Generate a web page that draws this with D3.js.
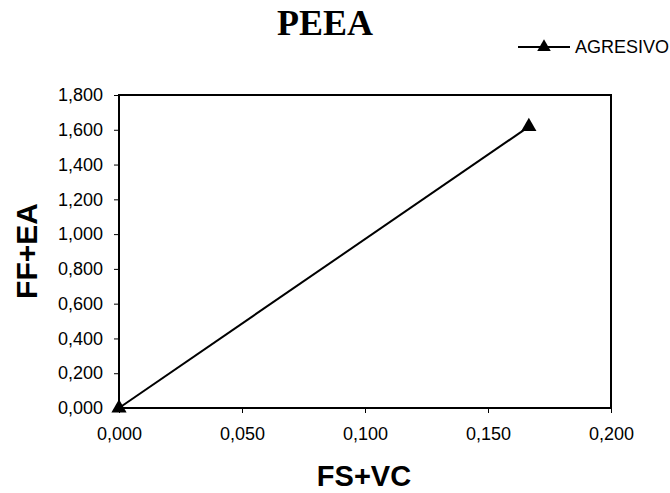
<!DOCTYPE html>
<html>
<head>
<script src="https://d3js.org/d3.v7.min.js"></script>
<style>
  body { margin: 0; background: #fff; }
  svg { display: block; }
</style>
</head>
<body>
<script>
// data
var seriesName = "AGRESIVO";
var xValues = [0, 0.1666];
var yValues = [0, 1.618];
var xTicks = [0, 0.05, 0.1, 0.15, 0.2];
var yTicks = [0, 0.2, 0.4, 0.6, 0.8, 1.0, 1.2, 1.4, 1.6, 1.8];

var width = 670, height = 493;
var margin = { top: 95, right: 59, bottom: 85, left: 119 };
var sans = "Arial, 'Liberation Sans', sans-serif";

var svg = d3.select("body").append("svg")
    .attr("width", width)
    .attr("height", height);

var x = d3.scaleLinear().domain([0, 0.2]).range([margin.left, width - margin.right]);
var y = d3.scaleLinear().domain([0, 1.8]).range([height - margin.bottom, margin.top]);

var fmt = function(d) { return d3.format(".3f")(d).replace(".", ","); };

// plot frame
svg.append("rect")
    .attr("x", x(0)).attr("y", y(1.8))
    .attr("width", x(0.2) - x(0)).attr("height", y(0) - y(1.8))
    .attr("fill", "none").attr("stroke", "#000").attr("stroke-width", 2);

var xAxis = svg.append("g")
    .attr("transform", "translate(0," + y(0) + ")")
    .call(d3.axisBottom(x).tickValues(xTicks).tickFormat(fmt).tickSize(5).tickPadding(14));
var yAxis = svg.append("g")
    .attr("transform", "translate(" + x(0) + ",0)")
    .call(d3.axisLeft(y).tickValues(yTicks).tickFormat(fmt).tickSize(5).tickPadding(11));

[xAxis, yAxis].forEach(function(a) {
    a.select(".domain").remove();
    a.selectAll("line").attr("stroke", "#000");
    a.attr("font-size", null).attr("font-family", null);
    a.selectAll("text")
        .attr("fill", "#000")
        .style("font-family", sans)
        .style("font-size", "18px");
});

// series
var pts = xValues.map(function(d, i) { return [d, yValues[i]]; });
svg.append("path")
    .attr("d", d3.line().x(function(d) { return x(d[0]); }).y(function(d) { return y(d[1]); })(pts))
    .attr("fill", "none").attr("stroke", "#000").attr("stroke-width", 2);

var tri = d3.symbol().type(d3.symbolTriangle).size(100);
svg.selectAll(".pt").data(pts).enter().append("path")
    .attr("class", "pt")
    .attr("d", tri)
    .attr("transform", function(d) { return "translate(" + x(d[0]) + "," + y(d[1]) + ")"; })
    .attr("fill", "#000");

// title
svg.append("text")
    .attr("x", 325).attr("y", 35)
    .attr("text-anchor", "middle")
    .style("font-family", "'Liberation Serif', 'Times New Roman', serif")
    .style("font-weight", "bold")
    .style("font-size", "36px")
    .text("PEEA");

// axis titles
svg.append("text")
    .attr("x", 364).attr("y", 486)
    .attr("text-anchor", "middle")
    .style("font-family", sans)
    .style("font-weight", "bold").style("font-size", "29px")
    .text("FS+VC");
svg.append("text")
    .attr("transform", "translate(37,251) rotate(-90)")
    .attr("text-anchor", "middle")
    .style("font-family", sans)
    .style("font-weight", "bold").style("font-size", "30px")
    .text("FF+EA");

// legend
var lg = svg.append("g").attr("transform", "translate(518,47)");
lg.append("line").attr("x1", 0).attr("x2", 52).attr("y1", 0).attr("y2", 0)
    .attr("stroke", "#000").attr("stroke-width", 2);
lg.append("path").attr("d", d3.symbol().type(d3.symbolTriangle).size(80))
    .attr("transform", "translate(26,0)").attr("fill", "#000");
lg.append("text").attr("x", 57).attr("y", 0).attr("dy", "0.35em")
    .style("font-family", sans)
    .style("font-size", "18px")
    .text(seriesName);
</script>
</body>
</html>
